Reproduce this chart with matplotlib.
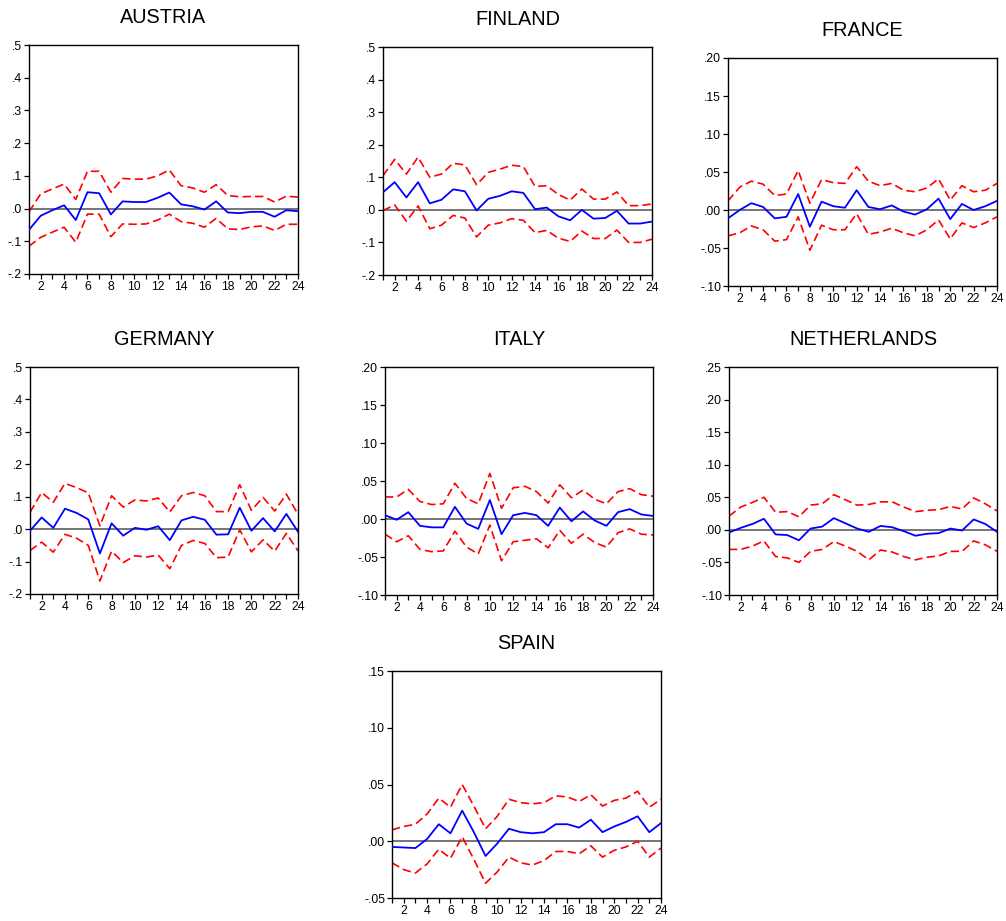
import numpy as np
import matplotlib.pyplot as plt
from matplotlib.ticker import FuncFormatter

plt.rcParams['font.family'] = ['Liberation Sans', 'DejaVu Sans']

periods = np.arange(1, 25)

austria = [-0.065, -0.022, -0.005, 0.010, -0.035, 0.050, 0.047, -0.018, 0.022, 0.020, 0.020, 0.033,
           0.049, 0.013, 0.007, -0.003, 0.022, -0.012, -0.014, -0.010, -0.010, -0.025, -0.005, -0.008]
austria_hi = [-0.010, 0.045, 0.060, 0.075, 0.028, 0.114, 0.114, 0.050, 0.092, 0.090, 0.090, 0.100,
              0.118, 0.070, 0.063, 0.050, 0.073, 0.040, 0.036, 0.037, 0.037, 0.020, 0.038, 0.035]
austria_lo = [-0.115, -0.088, -0.072, -0.057, -0.103, -0.017, -0.017, -0.086, -0.047, -0.048, -0.047, -0.035,
              -0.017, -0.040, -0.045, -0.057, -0.030, -0.062, -0.064, -0.056, -0.053, -0.067, -0.048, -0.048]

finland = [0.054, 0.085, 0.038, 0.085, 0.020, 0.031, 0.063, 0.057, -0.002, 0.034, 0.043, 0.057,
           0.052, 0.002, 0.007, -0.020, -0.032, 0.000, -0.027, -0.025, -0.003, -0.042, -0.042, -0.036]
finland_hi = [0.105, 0.155, 0.110, 0.162, 0.100, 0.110, 0.143, 0.138, 0.077, 0.115, 0.125, 0.137,
              0.133, 0.072, 0.074, 0.047, 0.030, 0.064, 0.033, 0.033, 0.055, 0.013, 0.013, 0.018]
finland_lo = [-0.002, 0.015, -0.035, 0.012, -0.058, -0.047, -0.017, -0.025, -0.083, -0.047, -0.040, -0.027,
              -0.032, -0.070, -0.063, -0.087, -0.097, -0.065, -0.088, -0.088, -0.062, -0.100, -0.100, -0.090]

france = [-0.011, 0.000, 0.009, 0.004, -0.011, -0.009, 0.021, -0.022, 0.011, 0.005, 0.003, 0.026,
          0.004, 0.001, 0.006, -0.002, -0.006, 0.001, 0.015, -0.012, 0.008, 0.000, 0.005, 0.012]
france_hi = [0.012, 0.030, 0.038, 0.034, 0.019, 0.021, 0.052, 0.009, 0.040, 0.036, 0.035, 0.057,
             0.038, 0.032, 0.035, 0.026, 0.024, 0.029, 0.041, 0.013, 0.032, 0.024, 0.026, 0.035]
france_lo = [-0.034, -0.030, -0.021, -0.026, -0.041, -0.039, -0.009, -0.053, -0.020, -0.026, -0.026, -0.005,
             -0.032, -0.029, -0.024, -0.030, -0.034, -0.026, -0.013, -0.038, -0.017, -0.023, -0.017, -0.009]

germany = [-0.005, 0.036, 0.004, 0.063, 0.050, 0.030, -0.075, 0.018, -0.020, 0.004, -0.002, 0.009,
           -0.034, 0.027, 0.038, 0.029, -0.017, -0.016, 0.066, -0.005, 0.034, -0.007, 0.047, -0.008]
germany_hi = [0.052, 0.113, 0.083, 0.141, 0.128, 0.112, 0.010, 0.103, 0.068, 0.090, 0.087, 0.096,
              0.053, 0.103, 0.113, 0.103, 0.054, 0.054, 0.137, 0.058, 0.098, 0.056, 0.108, 0.046]
germany_lo = [-0.066, -0.040, -0.071, -0.016, -0.028, -0.050, -0.160, -0.068, -0.103, -0.082, -0.086, -0.080,
              -0.122, -0.050, -0.035, -0.044, -0.088, -0.086, -0.002, -0.070, -0.033, -0.068, -0.013, -0.067]

italy = [0.005, -0.001, 0.009, -0.009, -0.011, -0.011, 0.016, -0.006, -0.013, 0.025, -0.020, 0.005,
         0.008, 0.005, -0.009, 0.015, -0.003, 0.010, -0.002, -0.009, 0.009, 0.013, 0.006, 0.004]
italy_hi = [0.029, 0.029, 0.039, 0.023, 0.019, 0.020, 0.047, 0.027, 0.020, 0.060, 0.014, 0.041,
            0.043, 0.036, 0.021, 0.045, 0.028, 0.038, 0.026, 0.020, 0.036, 0.040, 0.032, 0.030]
italy_lo = [-0.020, -0.030, -0.022, -0.040, -0.043, -0.042, -0.016, -0.037, -0.046, -0.008, -0.055, -0.030,
            -0.028, -0.026, -0.038, -0.015, -0.032, -0.020, -0.031, -0.037, -0.018, -0.013, -0.020, -0.021]

netherlands = [-0.004, 0.003, 0.009, 0.017, -0.007, -0.008, -0.016, 0.002, 0.005, 0.018, 0.010, 0.002,
               -0.003, 0.006, 0.004, -0.002, -0.009, -0.006, -0.005, 0.002, -0.001, 0.016, 0.009, -0.003]
netherlands_hi = [0.021, 0.035, 0.042, 0.050, 0.027, 0.028, 0.020, 0.038, 0.040, 0.054, 0.046, 0.038,
                  0.039, 0.043, 0.043, 0.035, 0.028, 0.030, 0.031, 0.036, 0.032, 0.049, 0.040, 0.029]
netherlands_lo = [-0.030, -0.030, -0.025, -0.017, -0.041, -0.043, -0.050, -0.033, -0.030, -0.018, -0.025, -0.033,
                  -0.046, -0.031, -0.034, -0.041, -0.046, -0.042, -0.040, -0.033, -0.033, -0.017, -0.023, -0.033]

spain = [-0.005, -0.0055, -0.006, 0.002, 0.015, 0.007, 0.027, 0.008, -0.013, -0.002, 0.011, 0.008,
         0.007, 0.008, 0.015, 0.015, 0.012, 0.019, 0.008, 0.013, 0.017, 0.022, 0.008, 0.016]
spain_hi = [0.010, 0.013, 0.015, 0.024, 0.038, 0.030, 0.050, 0.031, 0.011, 0.022, 0.037, 0.034,
            0.033, 0.034, 0.040, 0.039, 0.035, 0.041, 0.031, 0.036, 0.038, 0.044, 0.030, 0.037]
spain_lo = [-0.019, -0.025, -0.028, -0.020, -0.007, -0.015, 0.004, -0.016, -0.037, -0.027, -0.014, -0.019,
            -0.021, -0.017, -0.009, -0.009, -0.011, -0.004, -0.014, -0.008, -0.005, 0.000, -0.014, -0.006]

# name, response, upper, lower, (ymin, ymax, step, decimals), axes box in pixels (x0, y0, x1, y1)
panels = [
    ('AUSTRIA', austria, austria_hi, austria_lo, (-0.2, 0.5, 0.1, 1), (29, 45, 298, 274)),
    ('FINLAND', finland, finland_hi, finland_lo, (-0.2, 0.5, 0.1, 1), (383, 47, 652, 275)),
    ('FRANCE', france, france_hi, france_lo, (-0.10, 0.20, 0.05, 2), (728, 58, 997, 286)),
    ('GERMANY', germany, germany_hi, germany_lo, (-0.2, 0.5, 0.1, 1), (30, 367, 298, 594)),
    ('ITALY', italy, italy_hi, italy_lo, (-0.10, 0.20, 0.05, 2), (385, 367, 653, 595)),
    ('NETHERLANDS', netherlands, netherlands_hi, netherlands_lo, (-0.10, 0.25, 0.05, 2), (729, 367, 997, 595)),
    ('SPAIN', spain, spain_hi, spain_lo, (-0.05, 0.15, 0.05, 2), (392, 671, 661, 898)),
]

W, H = 1006, 921
fig = plt.figure(figsize=(W / 100, H / 100), dpi=100)


def strip_zero(dec):
    def fmt(v, pos):
        s = f'{v:.{dec}f}'
        return s.replace('0.', '.', 1)
    return FuncFormatter(fmt)


for name, resp, hi, lo, (ymin, ymax, step, dec), (x0, y0, x1, y1) in panels:
    ax = fig.add_axes([x0 / W, 1 - y1 / H, (x1 - x0) / W, (y1 - y0) / H])
    ax.axhline(0, color='#505050', linewidth=1.1, zorder=1)
    ax.plot(periods, hi, color='#ff0000', linewidth=1.2, linestyle=(0, (5, 2.5)), zorder=2)
    ax.plot(periods, lo, color='#ff0000', linewidth=1.2, linestyle=(0, (5, 2.5)), zorder=2)
    ax.plot(periods, resp, color='#0000ff', linewidth=1.3, zorder=3)
    ax.set_xlim(1, 24)
    ax.set_ylim(ymin, ymax)
    ax.set_xticks(periods)
    ax.set_xticklabels([str(p) if p % 2 == 0 else '' for p in periods])
    ax.set_yticks(np.round(np.arange(ymin, ymax + step / 2, step), 3))
    ax.yaxis.set_major_formatter(strip_zero(dec))
    ax.tick_params(labelsize=8.8, length=3.5, width=0.9, pad=1.5, colors='black')
    for sp in ax.spines.values():
        sp.set_linewidth(1.0)
    ax.set_title(name, fontsize=14.3, pad=16)

fig.savefig('out.png', dpi=100)
